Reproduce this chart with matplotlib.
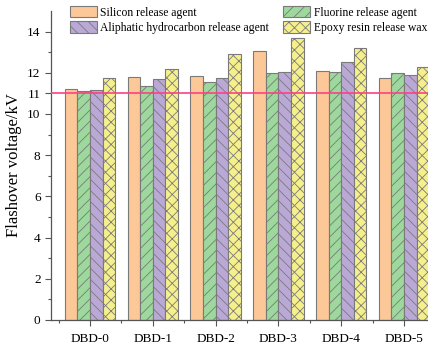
import matplotlib
matplotlib.use("Agg")
import matplotlib.pyplot as plt
import numpy as np
from matplotlib.ticker import FixedLocator

plt.rcParams['font.family'] = ['Liberation Serif', 'DejaVu Serif']
plt.rcParams['hatch.linewidth'] = 0.6

categories = ["DBD-0", "DBD-1", "DBD-2", "DBD-3", "DBD-4", "DBD-5"]
series_names = ["Silicon release agent", "Fluorine release agent",
                "Aliphatic hydrocarbon release agent", "Epoxy resin release wax"]
silicon = [11.22, 11.82, 11.84, 13.06, 12.08, 11.74]
fluorine = [11.11, 11.38, 11.55, 11.97, 12.05, 11.97]
aliphatic = [11.16, 11.71, 11.76, 12.03, 12.52, 11.90]
epoxy = [11.74, 12.18, 12.91, 13.69, 13.20, 12.26]
reference_level = 11
y_ticks = [0, 2, 4, 6, 8, 10, 11, 12, 14]

colors = ["#FDC897", "#9DD89C", "#BAA9D6", "#F6F08C"]
hatches = ["", "///", "\\\\\\", "xxx"]
edge = "#7a7a7a"

fig = plt.figure(figsize=(4.28, 3.47), dpi=100)
ax = fig.add_axes([51 / 428, 27 / 347, 392 / 428, 309 / 347])

x = np.arange(len(categories))
w = 0.2
all_series = [silicon, fluorine, aliphatic, epoxy]
order_offsets = [-1.5, -0.5, 0.5, 1.5]
handles = []
for vals, off, c, h, name in zip(all_series, order_offsets, colors, hatches, series_names):
    b = ax.bar(x + off * w, vals, width=w, color=c, edgecolor=edge,
               linewidth=0.8, hatch=h, label=name, zorder=2)
    handles.append(b)

ax.axhline(reference_level, color="#FF4085", linewidth=1.2, zorder=3)

ax.set_xlim(-0.62, 5.62)
ax.set_ylim(0, 15)
ax.set_xticks(x)
ax.set_xticklabels(categories)
ax.xaxis.set_minor_locator(FixedLocator(np.arange(-0.5, 6, 1)))
ax.yaxis.set_major_locator(FixedLocator(y_ticks))
ax.yaxis.set_minor_locator(FixedLocator([1, 3, 5, 7, 9, 13]))
ax.tick_params(axis='both', which='major', direction='out', length=4,
               width=0.8, color="#555555", labelsize=9.5)
ax.tick_params(axis='x', which='major', labelsize=9.5, pad=5)
ax.tick_params(axis='both', which='minor', direction='out', length=2.5,
               width=0.8, color="#555555")
for s in ["top", "right"]:
    ax.spines[s].set_visible(False)
for s in ["left", "bottom"]:
    ax.spines[s].set_color("#555555")
    ax.spines[s].set_linewidth(0.9)

ax.set_ylabel("Flashover voltage/kV", fontsize=12, labelpad=4)

# legend laid out row by row: silicon/fluorine, aliphatic/epoxy
leg_order = [handles[0], handles[2], handles[1], handles[3]]
leg_labels = [series_names[0], series_names[2], series_names[1], series_names[3]]
ax.legend(leg_order, leg_labels, ncol=2, frameon=False, fontsize=8.4,
          loc="upper left", bbox_to_anchor=(70 / 428, 1 - 6 / 347),
          bbox_transform=fig.transFigure, borderpad=0, borderaxespad=0,
          handlelength=2.3, handleheight=1.1, handletextpad=0.3,
          columnspacing=1.2, labelspacing=0.25)

fig.savefig("out.png", dpi=100)
